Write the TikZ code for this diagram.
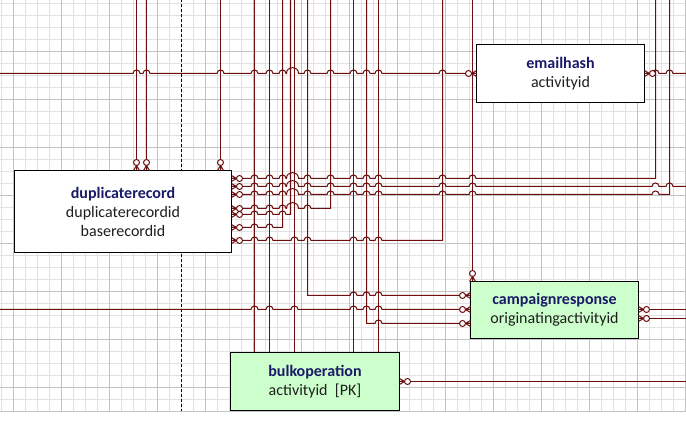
\documentclass[tikz,border=0pt]{standalone}
\usepackage{fontspec}
\setmainfont{Carlito}
\definecolor{relcol}{RGB}{108,14,14}
\definecolor{ttlcol}{RGB}{26,26,104}
\definecolor{txtcol}{RGB}{30,30,30}
\definecolor{entgreen}{RGB}{204,255,204}
\definecolor{gridminor}{RGB}{225,225,225}
\definecolor{gridmajor}{RGB}{195,195,195}
\tikzset{
  rel/.style={draw=relcol,line width=1pt,line join=miter},
  ent/.style={draw=black,line width=1pt,inner sep=0pt,align=center,
    text=txtcol,font=\fontsize{16}{19}\selectfont},
  gminor/.style={draw=gridminor,line width=0.8pt},
  gmajor/.style={draw=gridmajor,line width=0.9pt},
  pagebreak/.style={draw=black,line width=0.9pt,dash pattern=on 3pt off 2pt}
}
\newcommand\ttl[1]{\textcolor{ttlcol}{\textbf{#1}}}
% horizontal hops: #1 = y, #2 = list x/r
\newcommand\hops[2]{\foreach \h/\r in {#2}{ -- (\h-\r,#1) .. controls (\h-\r,#1-1.33*\r) and (\h+\r,#1-1.33*\r) .. (\h+\r,#1) }}
% zero-or-many marker: #1,#2 end point on entity, #3,#4 outward direction
\newcommand\mkz[4]{%
  \draw[rel] (#1+5*#3,#2+5*#4) -- (#1+3*#4,#2+3*#3)
             (#1+5*#3,#2+5*#4) -- (#1-3*#4,#2-3*#3)
             (#1+5*#3,#2+5*#4) -- (#1,#2);
  \draw[rel,fill=white] (#1+8*#3,#2+8*#4) circle[radius=3pt];}
\begin{document}
\begin{tikzpicture}[x=1pt,y=-1pt]
\useasboundingbox (0,0) rectangle (686,430);
\fill[white] (0,0) rectangle (686,430);
\begin{scope}[shift={(0.5,0.5)}]
% grid
\foreach \x in {1,13,...,685} \draw[gminor] (\x,-1) -- (\x,411);
\foreach \y in {3,15,...,411} \draw[gminor] (-1,\y) -- (686,\y);
\foreach \x in {13,61,...,685} \draw[gmajor] (\x,-1) -- (\x,411);
\foreach \y in {51,99,...,387} \draw[gmajor] (-1,\y) -- (686,\y);
\draw[gmajor] (-1,411) -- (686,411);
% page break
\draw[pagebreak] (181,-1) -- (181,411);

% entity nodes (placed first as coordinates, drawn later)
\path (122.5,211) coordinate (dupc) (560,73) coordinate (ehc)
      (554,309.5) coordinate (crc) (314.5,381) coordinate (boc);
\node[ent,draw=none,minimum width=217pt,minimum height=82pt] (dup) at (dupc) {};
\node[ent,draw=none,minimum width=168pt,minimum height=58pt] (eh) at (ehc) {};
\node[ent,draw=none,minimum width=168pt,minimum height=57pt] (cr) at (crc) {};
\node[ent,draw=none,minimum width=169pt,minimum height=58pt] (bo) at (boc) {};

% connectors
\draw[rel] (-1,73) \hops{73}{136/3.5,146/3.5,220/3.5,254/3.5,269/3.5,282/3.5,292/6,307/3.5,330/3.5,353/3.5,366/3.5,378/3.5,442/3.5} -- (eh.west);
\draw[rel] (eh.east) \hops{73}{655/3.5,669/3.5} -- (687,73);
\draw[rel] (136,-1) -- (dup.north -| 136,0);
\draw[rel] (146,-1) -- (dup.north -| 146,0);
\draw[rel] (220,-1) -- (dup.north -| 220,0);
\draw[rel] (254,-1) -- (bo.north -| 254,0);
\draw[rel] (269,-1) -- (bo.north -| 269,0);
\draw[rel] (294,-1) -- (bo.north -| 294,0);
\draw[rel] (353,-1) -- (bo.north -| 353,0);
\draw[rel] (378,-1) -- (bo.north -| 378,0);
\draw[rel] (472,-1) -- (cr.north -| 472,0);
\draw[rel] (dup.east |- 0,178) \hops{178}{254/3.5,269/3.5,282/3.5,292/6,307/3.5,330/3.5,353/3.5,366/3.5,378/3.5,442/3.5,472/3.5} -- (655,178) -- (655,-1);
\draw[rel] (dup.east |- 0,186) \hops{186}{254/3.5,269/3.5,282/3.5,292/6,307/3.5,330/3.5,353/3.5,366/3.5,378/3.5,442/3.5,472/3.5,655/3.5,669/3.5} -- (687,186);
\draw[rel] (dup.east |- 0,194) \hops{194}{254/3.5,269/3.5,282/3.5,292/6,307/3.5,330/3.5,353/3.5,366/3.5,378/3.5,442/3.5,472/3.5,655/3.5} -- (669,194) -- (669,-1);
\draw[rel] (dup.east |- 0,208) \hops{208}{254/3.5,269/3.5,282/3.5,292/6,307/3.5} -- (330,208) -- (330,-1);
\draw[rel] (dup.east |- 0,214) \hops{214}{254/3.5,269/3.5,282/3.5} -- (290,214) -- (290,-1);
\draw[rel] (dup.east |- 0,227) \hops{227}{254/3.5,269/3.5} -- (282,227) -- (282,-1);
\draw[rel] (dup.east |- 0,240) \hops{240}{254/3.5,269/3.5,294/3.5,307/3.5,353/3.5,366/3.5,378/3.5} -- (442,240) -- (442,-1);
\draw[rel] (307,-1) -- (307,295) \hops{295}{353/3.5,366/3.5,378/3.5} -- (cr.west |- 0,295);
\draw[rel] (-1,309) \hops{309}{254/3.5,269/3.5,294/3.5,353/3.5,366/3.5,378/3.5} -- (cr.west |- 0,309);
\draw[rel] (366,-1) -- (366,323) \hops{323}{378/3.5} -- (cr.west |- 0,323);
\draw[rel] (cr.east |- 0,309) -- (687,309);
\draw[rel] (cr.east |- 0,318) -- (687,318);
\draw[rel] (bo.east |- 0,381) -- (687,381);

% entities
\node[ent,fill=white,minimum width=217pt,minimum height=82pt] at (dupc)
  {\ttl{duplicaterecord}\\duplicaterecordid\\baserecordid};
\node[ent,fill=white,minimum width=168pt,minimum height=58pt] at (ehc)
  {\ttl{emailhash}\\activityid};
\node[ent,fill=entgreen,minimum width=168pt,minimum height=57pt] at (crc)
  {\ttl{campaignresponse}\\originatingactivityid};
\node[ent,fill=entgreen,minimum width=169pt,minimum height=58pt] at (boc)
  {\ttl{bulkoperation}\\activityid\ \ [PK]};

% markers
\foreach \x in {136,146,220} {\mkz{\x}{170}{0}{-1}}
\foreach \y in {178,186,194,208,214,227,240} {\mkz{231}{\y}{1}{0}}
\mkz{476}{73}{-1}{0}
\mkz{644}{73}{1}{0}
\foreach \y in {295,309,323} {\mkz{470}{\y}{-1}{0}}
\mkz{472}{281}{0}{-1}
\mkz{638}{309}{1}{0}
\mkz{638}{318}{1}{0}
\mkz{399}{381}{1}{0}
\end{scope}
\end{tikzpicture}
\end{document}
